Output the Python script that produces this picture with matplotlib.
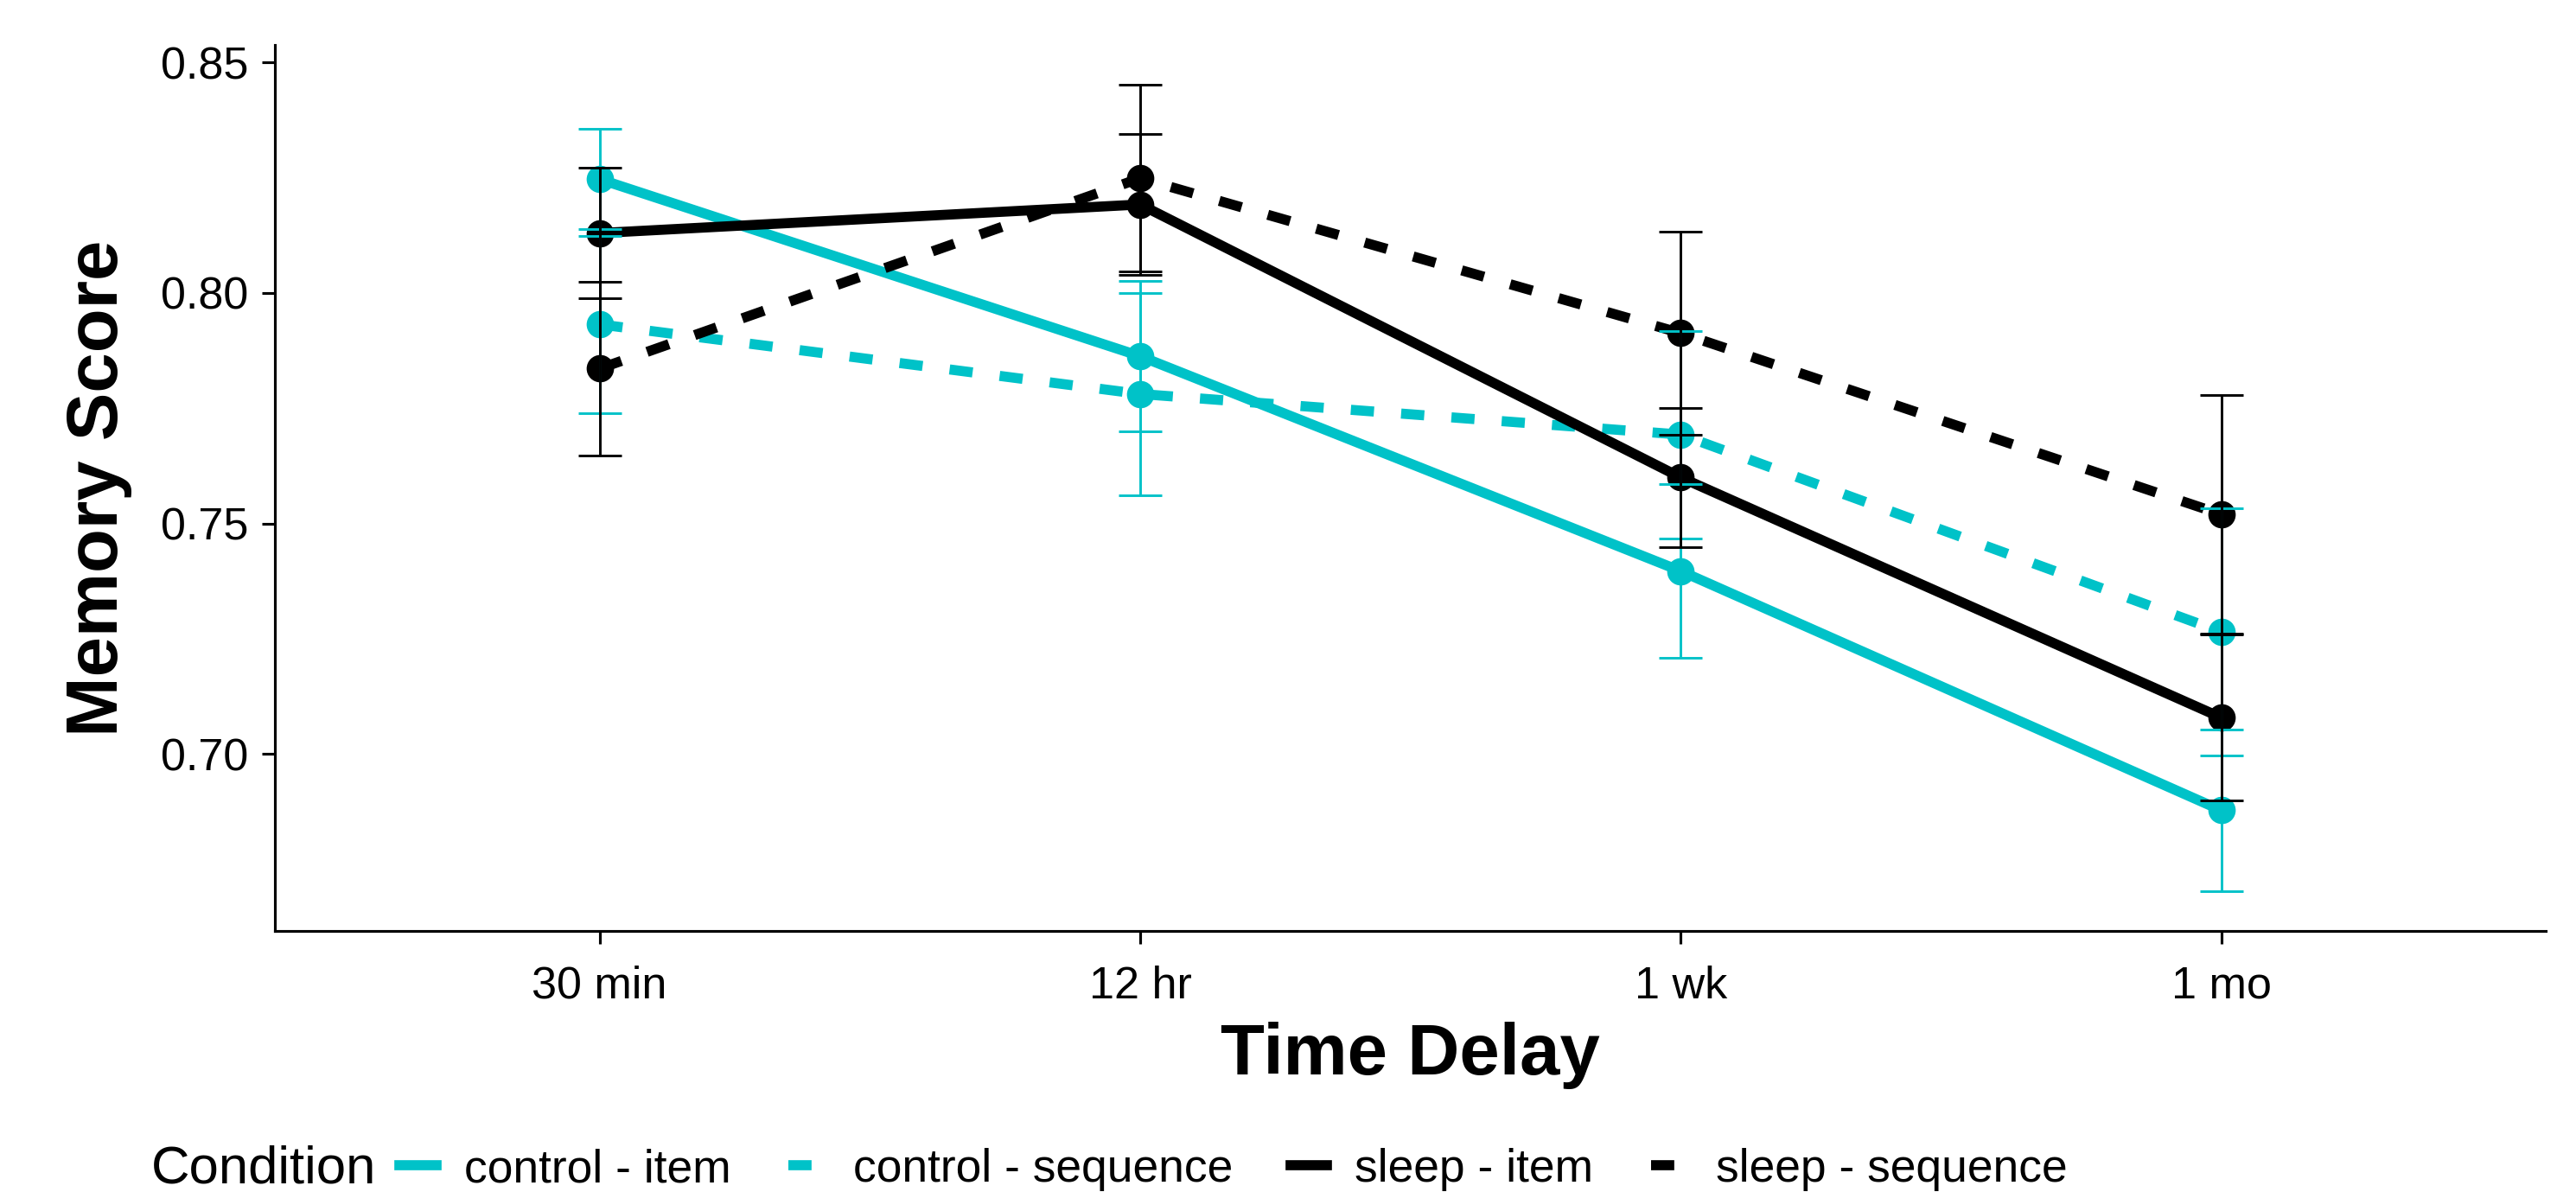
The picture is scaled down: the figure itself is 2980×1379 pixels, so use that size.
import numpy as np
import matplotlib
matplotlib.use("Agg")
import matplotlib.pyplot as plt
from matplotlib.lines import Line2D

plt.rcParams['font.family'] = ['Liberation Sans', 'DejaVu Sans']

# Data
delays = ["30 min", "12 hr", "1 wk", "1 mo"]
conditions = ["control - item", "control - sequence", "sleep - item", "sleep - sequence"]

control_item = [0.8247, 0.7863, 0.7397, 0.6878]
control_item_se = [0.0109, 0.0163, 0.0188, 0.0176]
control_seq = [0.7932, 0.7781, 0.7693, 0.7265]
control_seq_se = [0.0192, 0.0219, 0.0225, 0.0268]
sleep_item = [0.8130, 0.8192, 0.7600, 0.7079]
sleep_item_se = [0.0142, 0.0152, 0.0151, 0.0180]
sleep_seq = [0.7836, 0.8249, 0.7913, 0.7520]
sleep_seq_se = [0.0189, 0.0202, 0.0221, 0.0258]

means = [control_item, control_seq, sleep_item, sleep_seq]
ses = [control_item_se, control_seq_se, sleep_item_se, sleep_seq_se]

cyan = "#00C2C8"
colors = [cyan, cyan, "black", "black"]
dashed = (0, (2.3, 2.7))
styles = ["-", dashed, "-", dashed]

fig = plt.figure(figsize=(2980 / 300, 1379 / 300), dpi=300)
ax = fig.add_axes([0.10681, 0.21922, 0.88144, 0.74307])

x = np.arange(1, len(delays) + 1)

# lines, then points, then error bars (ggplot layer order)
for m, c, ls in zip(means, colors, styles):
    ax.plot(x, m, color=c, linestyle=ls, linewidth=2.8, zorder=2,
            solid_capstyle="butt", dash_capstyle="butt")
for m, c in zip(means, colors):
    ax.plot(x, m, linestyle="none", marker="o", markersize=6.6,
            color=c, zorder=3)
for m, s, c in zip(means, ses, colors):
    ax.errorbar(x, m, yerr=s, fmt="none", ecolor=c, elinewidth=0.7,
                capsize=5.9, capthick=0.7, zorder=4)

ax.set_xlim(0.4, 4.6)
ax.set_ylim(0.6617, 0.8538)
ax.set_xticks(x)
ax.set_xticklabels(delays)
ax.set_yticks([0.70, 0.75, 0.80, 0.85])
ax.set_yticklabels(["0.70", "0.75", "0.80", "0.85"])

for side in ["top", "right"]:
    ax.spines[side].set_visible(False)
for side in ["left", "bottom"]:
    ax.spines[side].set_linewidth(0.75)
ax.tick_params(axis="both", length=3.6, width=0.75, labelsize=12.5,
               colors="black")
ax.tick_params(axis="y", pad=3.8)
ax.tick_params(axis="x", pad=6)

ax.set_xlabel("Time Delay", fontsize=20, fontweight="bold", labelpad=4)
ax.set_ylabel("Memory Score", fontsize=20, fontweight="bold", labelpad=8)

# legend along the bottom, title on the left
fig.text(175 / 2980, 1 - 1353 / 1379, "Condition", fontsize=14.8,
         va="center", ha="left")
handles = [Line2D([], [], color=c, linestyle=ls, linewidth=2.8)
           for c, ls in zip(colors, styles)]
fig.legend(handles, conditions, loc="center left",
           bbox_to_anchor=(462 / 2980, 1 - 1353 / 1379), ncol=4,
           frameon=False, fontsize=12.8, handlelength=0.8,
           handletextpad=0.6, columnspacing=1.25, borderpad=0,
           borderaxespad=0)

fig.savefig("out.png", dpi=300)
